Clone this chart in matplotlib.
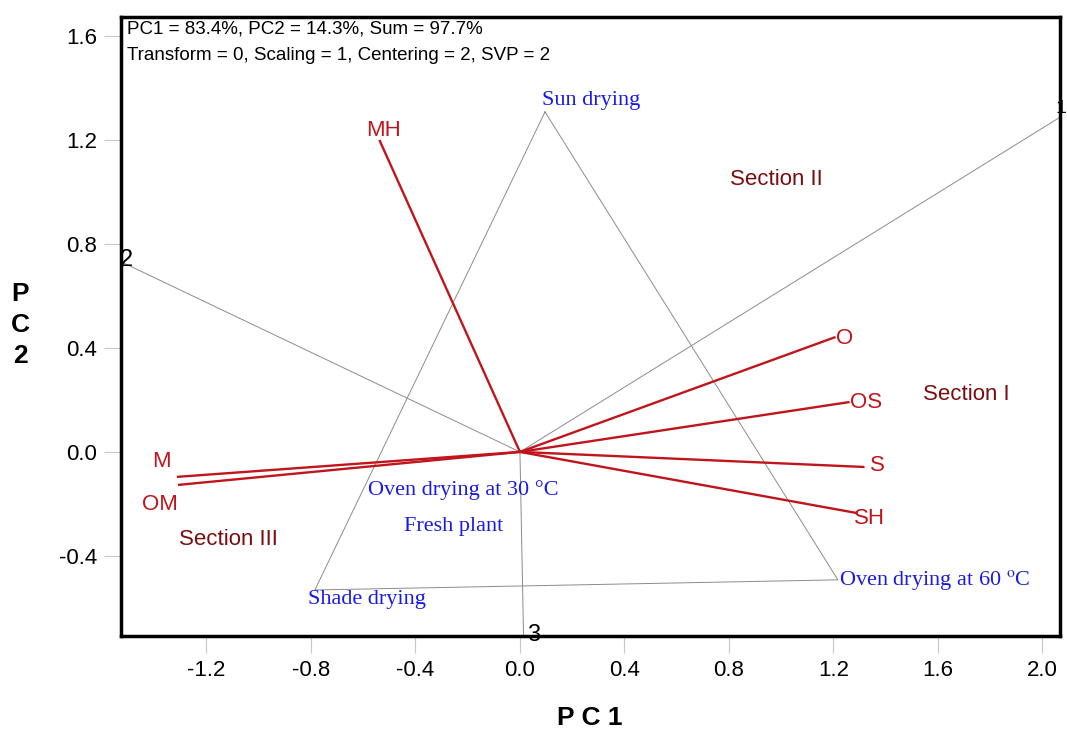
import numpy as np
import matplotlib
matplotlib.use("Agg")
import matplotlib.pyplot as plt

plt.rcParams['font.family'] = ['Liberation Sans', 'DejaVu Sans']
plt.rcParams['mathtext.fontset'] = 'stix'

# trait vectors
traits = ['MH', 'O', 'OS', 'S', 'SH', 'M', 'OM']
trait_x = [-0.538, 1.208, 1.262, 1.319, 1.289, -1.313, -1.309]
trait_y = [1.200, 0.442, 0.192, -0.058, -0.235, -0.096, -0.127]

# treatments (environments)
envs = ['Sun drying', 'Oven drying at 60 $^{\\mathrm{o}}$C', 'Shade drying',
        'Oven drying at 30 \u00b0C', 'Fresh plant']
env_x = [0.096, 1.217, -0.785, -0.582, -0.444]
env_y = [1.308, -0.492, -0.531, -0.146, -0.288]
hull = [0, 1, 2]          # polygon vertices (indices into envs)
ray_names = ['1', '3', '2']  # one per polygon side

sections = ['Section II', 'Section I', 'Section III']
sec_x = [0.982, 1.707, -1.114]
sec_y = [1.046, 0.219, -0.338]

header = ['PC1 = 83.4%, PC2 = 14.3%, Sum = 97.7%',
          'Transform = 0, Scaling = 1, Centering = 2, SVP = 2']

xticks = [-1.2, -0.8, -0.4, 0.0, 0.4, 0.8, 1.2, 1.6, 2.0]
yticks = [-0.4, 0.0, 0.4, 0.8, 1.2, 1.6]
xlim = (-1.527, 2.067)
ylim = (-0.708, 1.673)

red = '#c0151c'
blue = '#1a1ae6'
dark = '#7a0e0e'

fig = plt.figure(figsize=(10.67, 7.29), dpi=100)
ax = fig.add_axes([0.1134, 0.1276, 0.880, 0.8491])
ax.set_xlim(xlim)
ax.set_ylim(ylim)

# polygon
px = [env_x[i] for i in hull] + [env_x[hull[0]]]
py = [env_y[i] for i in hull] + [env_y[hull[0]]]
ax.plot(px, py, color='#8c8c8c', lw=0.7)

# rays perpendicular to polygon sides
for k in range(len(hull)):
    a = np.array([env_x[hull[k]], env_y[hull[k]]])
    b = np.array([env_x[hull[(k + 1) % len(hull)]], env_y[hull[(k + 1) % len(hull)]]])
    d = b - a
    n = np.array([d[1], -d[0]])
    mid = (a + b) / 2
    if np.dot(n, mid) < 0:
        n = -n
    ts = []
    for lim, comp in ((xlim, n[0]), (ylim, n[1])):
        if comp > 0:
            ts.append(lim[1] / comp)
        elif comp < 0:
            ts.append(lim[0] / comp)
    end = n * min(ts)
    ax.plot([0, end[0]], [0, end[1]], color='#8c8c8c', lw=0.7, clip_on=False)
    lab = ray_names[k]
    if lab == '1':
        ax.annotate(lab, end, xytext=(-3, 6), textcoords='offset points',
                    ha='left', va='center', fontsize=14, annotation_clip=False)
    elif lab == '2':
        ax.annotate(lab, end, xytext=(-1, 1), textcoords='offset points',
                    ha='left', va='center', fontsize=17, annotation_clip=False)
    else:
        ax.annotate(lab, end, xytext=(7, 1), textcoords='offset points',
                    ha='center', va='center', fontsize=17, annotation_clip=False)

# trait vectors
trait_off = {'MH': (3, 7, 'center'), 'O': (0, -1, 'left'), 'OS': (0, 0, 'left'),
             'S': (4, 1, 'left'), 'SH': (-2, -4, 'left'),
             'M': (-11, 11, 'center'), 'OM': (-13, -14, 'center')}
for name, x, y in zip(traits, trait_x, trait_y):
    ax.plot([0, x], [0, y], color=red, lw=1.7, solid_capstyle='butt')
    dx, dy, ha = trait_off[name]
    ax.annotate(name, (x, y), xytext=(dx, dy), textcoords='offset points',
                ha=ha, va='center', color=red, fontsize=16)

# treatment labels
env_off = [(-2, 8), (1, 0), (-5, -7), (0, 0), (0, 0)]
for name, x, y, (dx, dy) in zip(envs, env_x, env_y, env_off):
    ax.annotate(name, (x, y), xytext=(dx, dy), textcoords='offset points',
                ha='left', va='center', color=blue, fontsize=16,
                family='Liberation Serif')

for name, x, y in zip(sections, sec_x, sec_y):
    ax.text(x, y, name, ha='center', va='center', color=dark, fontsize=16)

for i, line in enumerate(header):
    fig.text(127 / 1067, 1 - (29 + 26 * i) / 729, line, ha='left', va='center',
             fontsize=13.5)

ax.set_xticks(xticks)
ax.set_yticks(yticks)
ax.set_xticklabels(['%.1f' % v for v in xticks])
ax.set_yticklabels(['%.1f' % v for v in yticks])
ax.tick_params(direction='out', length=12, width=0.8, color='#c8c8c8',
               labelsize=16, pad=5)
for s in ax.spines.values():
    s.set_linewidth(2.5)

fig.text(590 / 1067, 1 - 718 / 729, 'P C 1', ha='center', va='center',
         fontsize=19, fontweight='bold')
fig.text(20 / 1067, 1 - 325 / 729, 'P\nC\n2', ha='center', va='center',
         fontsize=19, fontweight='bold', linespacing=1.35)

fig.savefig('out.png', dpi=100)
